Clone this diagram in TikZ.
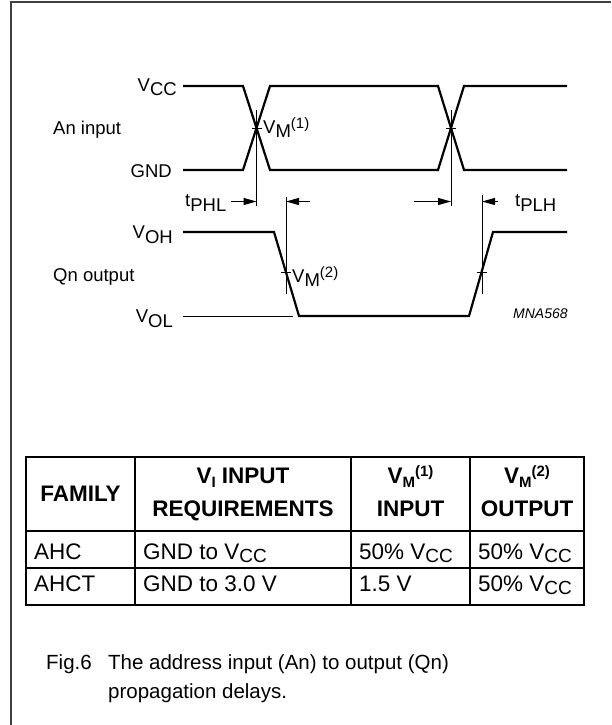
\documentclass[tikz,border=0pt]{standalone}
\usepackage{fontspec}
\setmainfont{Liberation Sans}
\usetikzlibrary{arrows.meta}
\newcommand\fsz[1]{\fontsize{#1}{#1}\selectfont}
% wave labels: V with lowered full-size subscript
\newcommand\WV[1]{V\raisebox{-5pt}{#1}}
% table V with lowered smaller subscript
\newcommand\TV[1]{V\raisebox{-3pt}{\fsz{19}#1}}
% table header V with subscript and superscript
\newcommand\HV[2]{V\raisebox{-4pt}{\fsz{15}#1}\raisebox{7pt}{\fsz{15}#2}}
\begin{document}
\begin{tikzpicture}[x=1pt,y=-1pt,
  wave/.style={line width=2.2pt,line join=miter},
  thinl/.style={line width=1pt},
  dim/.style={line width=1pt,-{Triangle[length=13pt,width=7pt]}},
  lbl/.style={inner sep=0pt,font=\fsz{18.5}},
  tl/.style={line width=1.3pt},
  cell/.style={inner sep=0pt,font=\fsz{22.5},anchor=base west},
  head/.style={inner sep=0pt,font=\bfseries\fsz{22.5},anchor=base},
  capt/.style={inner sep=0pt,font=\fsz{20.5},anchor=base west},
]
\useasboundingbox (0,0) rectangle (611,725);
% frame
\draw[line width=1.4pt,color=black!75] (11,725) -- (11,2) -- (611,2);

% waveforms
\draw[wave] (183,86) -- (243,86) -- (270,170) -- (438,170) -- (464,86) -- (567,86);
\draw[wave] (183,170) -- (243,170) -- (270,86) -- (438,86) -- (464,170) -- (567,170);
\draw[wave] (183,232) -- (274,232) -- (299,316) -- (469,316) -- (493,232) -- (567,232);
\draw[thinl] (183,316) -- (293,316);

% measurement points
\coordinate (m1) at (256.5,128);
\coordinate (m2) at (451,128);
\coordinate (o1) at (286,272.5);
\coordinate (o2) at (482,272.5);
\coordinate (m1t) at (256.5,110); \coordinate (m1b) at (256.5,206);
\coordinate (m2t) at (451,110);   \coordinate (m2b) at (451,206);
\coordinate (o1t) at (286,197);   \coordinate (o1b) at (286,294);
\coordinate (o2t) at (482,195);   \coordinate (o2b) at (482,294);
\draw[thinl] (m1t) -- (m1b);
\draw[thinl] (m2t) -- (m2b);
\draw[thinl] (o1t) -- (o1b);
\draw[thinl] (o2t) -- (o2b);
% ticks
\draw[thinl] ([xshift=-5pt]m1) -- ([xshift=5pt]m1);
\draw[thinl] ([xshift=-5pt]m2) -- ([xshift=5pt]m2);
\draw[thinl] ([xshift=-5pt]o1) -- ([xshift=5pt]o1);
\draw[thinl] ([xshift=-5pt]o2) -- ([xshift=5pt]o2);

% dimension arrows
\coordinate (a1s) at (231,201.5);  \coordinate (a1e) at (256.5,201.5);
\coordinate (a2s) at (310,201.5);  \coordinate (a2e) at (286,201.5);
\coordinate (a3s) at (414,201.5);  \coordinate (a3e) at (451,201.5);
\coordinate (a4s) at (498,201.5);  \coordinate (a4e) at (482,201.5);
\draw[dim] (a1s) -- (a1e);
\draw[dim] (a2s) -- (a2e);
\draw[dim] (a3s) -- (a3e);
\draw[dim] (a4s) -- (a4e);

% labels
\node[lbl,anchor=base east] (vcc) at (177,91) {\WV{CC}};
\node[lbl,anchor=base east] (gnd) at (172,177) {GND};
\node[lbl,anchor=base west] (ain) at (53,134) {An input};
\node[lbl,anchor=base east] (voh) at (173,238) {\WV{OH}};
\node[lbl,anchor=base east] (vol) at (173,322) {\WV{OL}};
\node[lbl,anchor=base west] (qout) at (53,281) {Qn output};
\node[lbl,anchor=base west] (vm1) at (263,133.5) {V\raisebox{-4pt}{M}\raisebox{5pt}{\fsz{15}(1)}};
\node[lbl,anchor=base west] (vm2) at (292,282) {V\raisebox{-4pt}{M}\raisebox{5pt}{\fsz{15}(2)}};
\node[lbl,anchor=base west] (tphl) at (185,206) {t\raisebox{-5pt}{PHL}};
\node[lbl,anchor=base west] (tplh) at (515,206) {t\raisebox{-5pt}{PLH}};
\node[inner sep=0pt,anchor=base west,font=\itshape\fsz{14}] (mna) at (513,318) {MNA568};

% table
\draw[tl] (26,457) rectangle (584,605);
\draw[tl] (26,531) -- (584,531);
\draw[tl] (26,568) -- (584,568);
\draw[tl] (135,457) -- (135,605);
\draw[tl] (351,457) -- (351,605);
\draw[tl] (470,457) -- (470,605);

\node[head] (hfam) at (80.5,501.5) {FAMILY};
\node[head] (hvi1) at (243,483) {V\raisebox{-4pt}{\fsz{15}I} INPUT};
\node[head] (hvi2) at (243,516.5) {REQUIREMENTS};
\node[head] (hvm1) at (410.5,483) {\HV{M}{(1)}};
\node[head] (hin) at (410.5,516.5) {INPUT};
\node[head] (hvm2) at (527,483) {\HV{M}{(2)}};
\node[head] (hout) at (527,516.5) {OUTPUT};

\node[cell] (c11) at (34,559.3) {AHC};
\node[cell] (c12) at (143,559.3) {GND to \TV{CC}};
\node[cell] (c13) at (359,559.3) {50\% \TV{CC}};
\node[cell] (c14) at (478,559.3) {50\% \TV{CC}};
\node[cell] (c21) at (34,591.7) {AHCT};
\node[cell] (c22) at (143,591.7) {GND to 3.0 V};
\node[cell] (c23) at (359,591.7) {1.5 V};
\node[cell] (c24) at (478,591.7) {50\% \TV{CC}};

% caption
\node[capt] (fig) at (46,669) {Fig.6};
\node[capt] (cap1) at (108,669) {The address input (An) to output (Qn)};
\node[capt] (cap2) at (108,698) {propagation delays.};
\end{tikzpicture}
\end{document}
